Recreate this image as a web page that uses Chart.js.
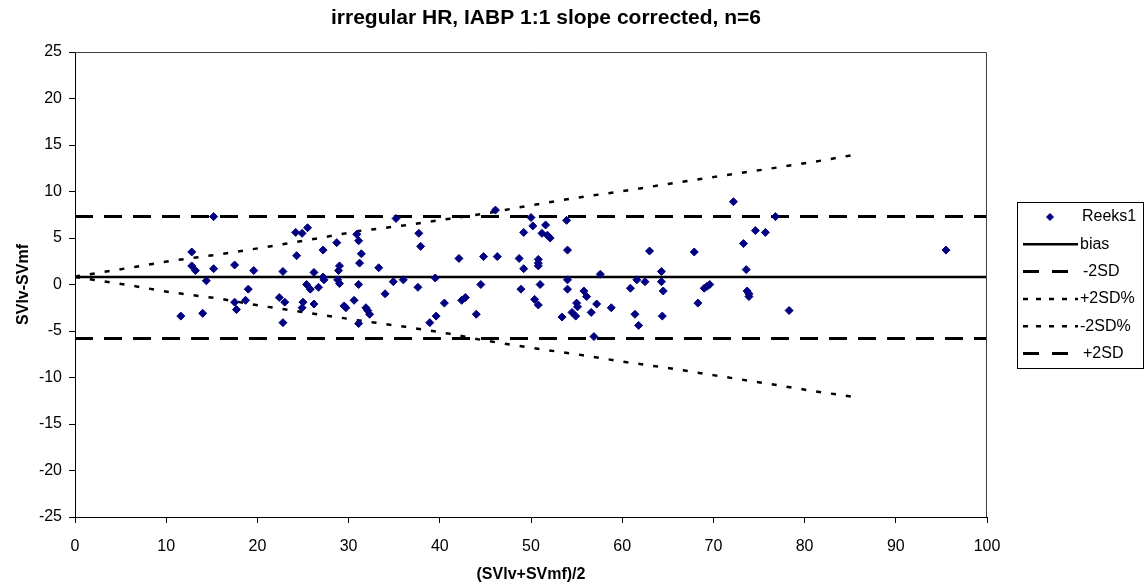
<!DOCTYPE html>
<html>
<head>
<meta charset="utf-8">
<title>irregular HR, IABP 1:1 slope corrected, n=6</title>
<script src="https://cdn.jsdelivr.net/npm/chart.js@4.4.1/dist/chart.umd.min.js"></script>
<style>
  html, body { margin: 0; padding: 0; background: #fff; }
  canvas { display: block; }
</style>
</head>
<body>
<canvas id="baChart" width="1144" height="584"></canvas>
<script>
// ===== Data: Bland-Altman, (SVlv+SVmf)/2 vs SVlv-SVmf =====
const meanVals = [
  15.2, 12.8, 12.8, 13.2, 15.2, 14.4, 17.5, 19.6, 19.0, 18.7, 17.5, 17.7, 11.6, 14.0,
  24.2, 24.9, 25.5, 24.3, 27.2, 28.7, 30.9, 31.1, 31.4, 31.2, 35.2, 37.7, 37.9,
  22.8, 26.2, 29.0, 28.9, 33.3, 27.2, 27.3, 28.8, 29.0, 25.4, 25.8, 26.7, 31.1,
  34.9, 36.0, 39.5, 37.6, 34.0, 22.4, 23.0, 25.0, 24.9, 26.2, 30.6, 29.5, 29.7,
  31.9, 32.1, 32.3, 22.8, 31.1, 38.9, 39.6, 40.5,
  46.1, 50.0, 50.2, 51.6, 49.2, 51.2, 51.8, 52.1, 53.9, 54.0, 42.1, 44.8, 46.3,
  48.7, 50.8, 50.8, 50.8, 49.2, 57.6, 54.0, 61.6, 44.5, 51.0, 48.9, 54.0, 60.9,
  55.8, 56.1, 42.4, 42.8, 50.4, 50.8, 55.0, 55.1, 57.2, 58.8, 54.5, 54.9, 53.4,
  56.6, 44.0, 61.4, 61.8, 56.9,
  72.2, 76.8, 74.6, 75.7, 73.3, 63.0, 67.9, 73.6, 64.3, 62.5, 64.3, 64.5, 69.6,
  69.3, 69.0, 73.7, 73.9, 73.9, 68.3, 78.3, 64.4, 95.5
];
const diffVals = [
  7.3, 3.5, 2.0, 1.5, 1.7, 0.4, 2.1, 1.5, -0.5, -1.7, -1.9, -2.7, -3.4, -3.1,
  5.6, 5.5, 6.1, 3.1, 3.7, 4.5, 5.4, 4.7, 3.3, 2.3, 7.1, 5.5, 4.1,
  1.4, 1.3, 2.0, 1.5, 1.8, 0.8, 0.5, 0.5, 0.1, 0.0, -0.5, -0.3, 0.0,
  0.3, 0.5, 0.7, -0.3, -1.0, -1.4, -1.9, -1.9, -2.5, -2.1, -1.7, -2.3, -2.5,
  -2.5, -2.8, -3.2, -4.1, -4.2, -4.1, -3.4, -2.0,
  8.0, 7.2, 6.3, 6.4, 5.6, 5.5, 5.3, 5.0, 6.9, 3.7, 2.8, 3.0, 3.0,
  2.8, 2.7, 2.3, 2.0, 1.7, 1.1, 0.5, 0.5, 0.0, 0.0, -0.5, -0.5, -0.4,
  -0.7, -1.3, -1.7, -1.4, -1.6, -2.2, -2.0, -2.4, -2.1, -2.5, -3.0, -3.4, -3.5,
  -3.0, -3.2, -3.2, -4.4, -5.6,
  8.9, 7.3, 5.8, 5.6, 4.4, 3.6, 3.5, 1.6, 1.4, 0.3, 0.3, -0.7, 0.0,
  -0.2, -0.4, -0.7, -1.0, -1.3, -2.0, -2.8, -3.4, 3.7
];

// bias and limits of agreement
const limitX   = [0, 100];
const biasVals = [0.8, 0.8];
const plus2SD  = [7.3, 7.3];
const minus2SD = [-5.8, -5.8];

// percentage limits
const pctX = [0, 5.5, 10.4, 15.7, 20.6, 26.0, 30.9, 36.2, 41.1, 44.8, 49.9, 55.0, 60.1, 65.2, 70.3, 75.6, 80.6, 86.1];
const plus2SDpct  = [0.85, 1.72, 2.53, 3.22, 3.97, 4.86, 5.72, 6.36, 7.08, 7.6, 8.5, 9.33, 10.04, 10.84, 11.6, 12.37, 13.12, 14.05];
const minus2SDpct = [0.8, 0.0, -0.83, -1.5, -2.33, -3.11, -3.83, -4.55, -5.3, -6.0, -6.8, -7.5, -8.3, -9.0, -9.8, -10.6, -11.4, -12.2];

const xTicks = [0, 10, 20, 30, 40, 50, 60, 70, 80, 90, 100];
const yTicks = [-25, -20, -15, -10, -5, 0, 5, 10, 15, 20, 25];

const FONT = '"Liberation Sans", Arial, sans-serif';

function pts(xs, ys) {
  return xs.map((x, i) => ({ x: x, y: ys[i] }));
}

// ===== Title, plot frame and boxed legend =====
const extras = {
  id: 'extras',
  afterDraw(chart) {
    const { ctx, chartArea: a } = chart;
    ctx.save();

    // top and right edge of the plot area
    ctx.strokeStyle = '#404040';
    ctx.lineWidth = 1;
    ctx.beginPath();
    ctx.moveTo(a.left, a.top + 0.5);
    ctx.lineTo(a.right - 0.5, a.top + 0.5);
    ctx.lineTo(a.right - 0.5, a.bottom);
    ctx.stroke();

    // title
    ctx.fillStyle = '#000';
    ctx.font = 'bold 21px ' + FONT;
    ctx.textAlign = 'center';
    ctx.textBaseline = 'middle';
    ctx.fillText('irregular HR, IABP 1:1 slope corrected, n=6', 546, 18);

    // legend
    const lx = 1017, ly = 202, lw = 126, lh = 166;
    ctx.fillStyle = '#fff';
    ctx.fillRect(lx, ly, lw, lh);
    ctx.strokeStyle = '#000';
    ctx.lineWidth = 1;
    ctx.strokeRect(lx + 0.5, ly + 0.5, lw, lh);

    ctx.font = '16px ' + FONT;
    ctx.textAlign = 'left';
    chart.data.datasets.forEach((ds, i) => {
      const y = ly + 15 + i * 27.3;
      if (!ds.showLine) {
        ctx.fillStyle = ds.backgroundColor;
        ctx.strokeStyle = ds.borderColor;
        ctx.lineWidth = 1;
        Chart.helpers.drawPoint(ctx, { pointStyle: 'rectRot', radius: 3.5, borderWidth: 1 }, 1050, y);
        ctx.fillStyle = '#000';
        ctx.fillText(ds.label, 1082, y);
      } else {
        ctx.strokeStyle = ds.borderColor;
        ctx.lineWidth = ds.borderWidth;
        ctx.setLineDash(ds.legendDash || []);
        ctx.beginPath();
        ctx.moveTo(1023, y);
        ctx.lineTo(1078, y);
        ctx.stroke();
        ctx.setLineDash([]);
        ctx.fillStyle = '#000';
        ctx.fillText(ds.label, ds.legendDash && ds.legendDash[0] > 10 ? 1083 : 1080, y);
      }
    });
    ctx.restore();
  }
};

// ===== Chart =====
const ctx = document.getElementById('baChart').getContext('2d');
new Chart(ctx, {
  type: 'scatter',
  data: {
    datasets: [
      {
        label: 'Reeks1',
        data: pts(meanVals, diffVals),
        showLine: false,
        pointStyle: 'rectRot',
        pointRadius: 4,
        pointBorderWidth: 1,
        backgroundColor: '#000080',
        borderColor: '#000080'
      },
      {
        label: 'bias',
        data: pts(limitX, biasVals),
        showLine: true,
        borderColor: '#000',
        borderWidth: 2.5,
        pointRadius: 0
      },
      {
        label: '-2SD',
        data: pts(limitX, minus2SD),
        showLine: true,
        borderColor: '#000',
        borderWidth: 3,
        borderDash: [18, 11],
        legendDash: [16, 13],
        pointRadius: 0
      },
      {
        label: '+2SD%',
        data: pts(pctX, plus2SDpct),
        showLine: true,
        borderColor: '#000',
        borderWidth: 2.5,
        borderDash: [5, 10],
        legendDash: [5, 8],
        pointRadius: 0
      },
      {
        label: '-2SD%',
        data: pts(pctX, minus2SDpct),
        showLine: true,
        borderColor: '#000',
        borderWidth: 2.5,
        borderDash: [5, 10],
        legendDash: [5, 8],
        pointRadius: 0
      },
      {
        label: '+2SD',
        data: pts(limitX, plus2SD),
        showLine: true,
        borderColor: '#000',
        borderWidth: 3,
        borderDash: [18, 11],
        legendDash: [16, 13],
        pointRadius: 0
      }
    ]
  },
  options: {
    responsive: false,
    animation: false,
    layout: { padding: { left: 0, top: 52, right: 157, bottom: 0 } },
    plugins: {
      legend: { display: false },
      tooltip: { enabled: false }
    },
    scales: {
      x: {
        type: 'linear',
        min: 0,
        max: 100,
        afterBuildTicks: (scale) => { scale.ticks = xTicks.map(v => ({ value: v })); },
        afterFit: (scale) => { scale.height = 67; },
        ticks: { color: '#000', font: { family: FONT, size: 16 }, padding: 14, maxRotation: 0 },
        grid: { drawOnChartArea: false, tickLength: 6, color: '#000' },
        border: { color: '#000', width: 1 },
        title: {
          display: true,
          text: '(SVlv+SVmf)/2',
          color: '#000',
          font: { family: FONT, size: 16, weight: 'bold' },
          padding: { top: 0, bottom: 0 }
        }
      },
      y: {
        type: 'linear',
        min: -25,
        max: 25,
        afterBuildTicks: (scale) => { scale.ticks = yTicks.map(v => ({ value: v })); },
        afterFit: (scale) => { scale.width = 75; },
        ticks: { color: '#000', font: { family: FONT, size: 16 }, padding: 7 },
        grid: { drawOnChartArea: false, tickLength: 6, color: '#000' },
        border: { color: '#000', width: 1 },
        title: {
          display: true,
          text: 'SVlv-SVmf',
          color: '#000',
          font: { family: FONT, size: 16, weight: 'bold' },
          padding: { top: 14, bottom: 0 }
        }
      }
    }
  },
  plugins: [extras]
});
</script>
</body>
</html>
